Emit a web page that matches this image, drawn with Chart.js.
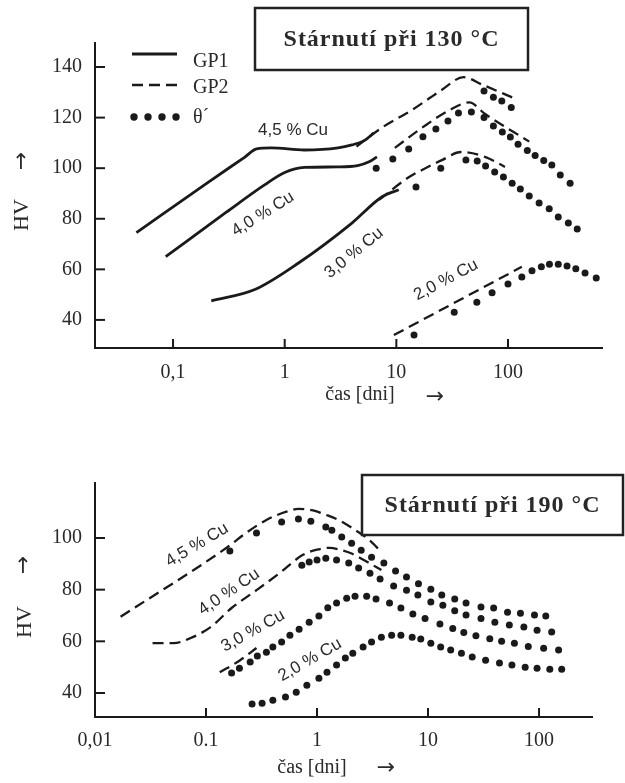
<!DOCTYPE html>
<html><head><meta charset="utf-8">
<script src="https://cdn.jsdelivr.net/npm/chart.js@4.4.0/dist/chart.umd.min.js"></script>
<style>
html,body{margin:0;padding:0;background:#fff;width:625px;height:783px;overflow:hidden}
#c1{position:absolute;left:0;top:0}
#c2{position:absolute;left:0;top:410px}
</style></head><body>
<canvas id="c1" width="625" height="410"></canvas>
<canvas id="c2" width="625" height="373"></canvas>
<script>
// ---------- tick values and labels ----------
const xTicks130 = [0.1, 1, 10, 100];
const xLabels130 = ['0,1', '1', '10', '100'];
const yTicks130 = [40, 60, 80, 100, 120, 140];
const xTicks190 = [0.01, 0.1, 1, 10, 100];
const xLabels190 = ['0,01', '0.1', '1', '10', '100'];
const yTicks190 = [40, 60, 80, 100];

// ---------- ageing at 130 °C : [time in days, HV] ----------
const gp1_130_45 = [[0.047,74.5],[0.2,94],[0.44,104.4],[0.56,107.6],[0.76,108],[1.5,107.2],[3,108],[4,109.2],[5.2,111],[6.3,114]];
const gp2_130_45 = [[4.4,108.5],[7.4,116],[13.8,123],[25.6,131],[40,136],[59,133],[109,128]];
const theta_130_45 = [[61,130.5],[74,128],[88,126.6],[107,124]];
const gp1_130_40 = [[0.086,65],[0.3,82.6],[0.66,93.4],[1.0,98.3],[1.5,100.3],[3,100.5],[4.5,101],[5.7,102.5],[6.7,104.5]];
const gp2_130_40 = [[9.7,108],[17,116],[30,123],[45,126],[62,121.5],[155,110.5]];
const theta_130_40 = [[6.6,100],[9.3,103.6],[12.9,107.6],[17.3,112.4],[22.6,115.5],[29,118.7],[36,121.8],[47,122.2],[61,120],[74,116.7],[89,114.3],[105,112.3],[123,109.5],[149,107],[175,105],[209,103],[247,101.3],[294,97.3],[360,94]];
const gp1_130_30 = [[0.22,47.5],[0.54,52],[1.33,62.5],[4,78.3],[7.4,88.6],[10.5,91.5]];
const gp2_130_30 = [[7,87.5],[13,96.5],[17,99.3],[25.6,103.2],[38,106.4],[63,104.4],[94,100.5]];
const theta_130_30 = [[15,92.6],[25,100],[42,103.2],[53,102.8],[63,100.9],[76,98.5],[91,96.5],[109,94],[129,91.8],[155,89],[190,86.2],[234,84],[282,80.7],[347,78.3],[417,76]];
const gp2_130_20 = [[9.5,34],[133,61]];
const theta_130_20 = [[14.4,34],[33,43],[52.6,47],[72,50.7],[100,54.2],[133,57],[164,59.4],[199,61],[235,62],[282,62],[338,61.3],[405,60.2],[490,58.6],[617,56.6]];

// ---------- ageing at 190 °C ----------
const gp2_190_45 = [[0.017,69.5],[0.16,96.8],[0.23,102],[0.35,107],[0.53,110.2],[0.68,111.3],[0.9,110.8],[1.2,109],[1.6,106.8],[2.05,104],[2.9,99.5],[3.8,94.6]];
const theta_190_45 = [[0.164,95],[0.285,101.9],[0.48,106.2],[0.68,107.4],[0.88,106.5],[1.2,104.3],[1.36,103],[1.67,100.4],[2.05,98],[2.5,95.3],[3.1,92.6],[4,90.3],[5.1,87.2],[6.4,84.9],[8.2,82.3],[10.6,80.2],[13.3,77.9],[17.4,76.4],[22,74.8],[30,73.3],[39,72.9],[52,71.3],[68,70.9],[91,70.2],[115,69.8]];
const gp2_190_40 = [[0.033,59.3],[0.051,59.3],[0.072,61.2],[0.11,65.5],[0.17,72.9],[0.285,79.8],[0.46,86.4],[0.74,93.4],[1.0,95.5],[1.3,96.2],[1.6,95.5],[2.05,94],[2.9,90.5],[3.8,87.6]];
const theta_190_40 = [[0.73,89.5],[0.85,90.7],[1.0,91.5],[1.2,92.2],[1.5,91.5],[1.93,90.3],[2.37,88.4],[3.0,86.4],[3.7,84.1],[4.9,81.4],[6.4,79.8],[8.1,77.9],[10.6,75.2],[13.6,74],[17.4,71.8],[22,70.2],[30,68.8],[40,67.4],[54,66.3],[73,65.5],[96,64.3],[130,63.6]];
const gp2_190_30 = [[0.133,48],[0.2,52.5],[0.285,57.4]];
const theta_190_30 = [[0.17,47.7],[0.2,49.6],[0.25,52],[0.29,54.3],[0.35,55.8],[0.4,57.8],[0.48,59.7],[0.57,62.4],[0.69,64.7],[0.85,67.4],[1.04,69.8],[1.25,73],[1.5,74.8],[1.85,76.7],[2.2,77.5],[2.8,77.5],[3.4,76.4],[4.5,74.8],[5.7,72.9],[7.3,70.6],[9.4,68.8],[12.8,66.7],[16.7,65],[21,63.4],[27,62.2],[36,61],[46,60],[60,59.3],[80,58],[110,57.3],[150,56.6]];
const theta_190_20 = [[0.26,35.7],[0.32,36],[0.4,37.2],[0.52,38.4],[0.65,40.3],[0.81,43],[1.04,45.7],[1.23,48],[1.5,50.8],[1.8,53.5],[2.1,55.4],[2.6,57.8],[3.1,59.7],[3.8,61.6],[4.7,62.4],[5.7,62.4],[7.2,61.6],[8.6,60.9],[10.6,59.3],[13,57.8],[16,56.6],[20,55.4],[25,53.9],[33,52.7],[44,51.6],[57,50.8],[75,50],[96,49.6],[125,49.2],[160,49.2]];

// ---------- helpers ----------
const INK = '#1a1a1a';
function ds(label, pts, kind) {
  const base = { label, data: pts.map(([x, y]) => ({ x, y })), borderColor: INK, backgroundColor: INK };
  if (kind === 'gp1') return Object.assign(base, { borderWidth: 2.8, pointRadius: 0, cubicInterpolationMode: 'monotone' });
  if (kind === 'gp2') return Object.assign(base, { borderWidth: 2.3, borderDash: [11, 6], pointRadius: 0, cubicInterpolationMode: 'monotone' });
  return Object.assign(base, { showLine: false, pointRadius: 3.5, pointBorderWidth: 0, pointStyle: 'circle' });
}

const inwardTicks = {
  id: 'inwardTicks',
  afterDraw(chart) {
    const { ctx, scales: { x, y }, chartArea: a } = chart;
    ctx.save(); ctx.strokeStyle = INK; ctx.lineWidth = 2;
    x.ticks.forEach(t => { const p = x.getPixelForValue(t.value); if (p <= a.left + 2) return; ctx.beginPath(); ctx.moveTo(p, a.bottom); ctx.lineTo(p, a.bottom - 9); ctx.stroke(); });
    y.ticks.forEach(t => { const p = y.getPixelForValue(t.value); ctx.beginPath(); ctx.moveTo(a.left, p); ctx.lineTo(a.left + 10, p); ctx.stroke(); });
    ctx.restore();
  }
};

function txt(ctx, s, x, y, font, rot, align, spacing) {
  ctx.save(); ctx.translate(x, y); if (rot) ctx.rotate(rot * Math.PI / 180);
  ctx.font = font; ctx.fillStyle = '#2a2a2a'; ctx.textAlign = align || 'center'; ctx.textBaseline = 'middle';
  if (spacing) ctx.letterSpacing = spacing;
  ctx.fillText(s, 0, 0); ctx.restore();
}
function titleBox(ctx, x, y, w, h, s) {
  ctx.save(); ctx.fillStyle = '#fff'; ctx.fillRect(x, y, w, h);
  ctx.strokeStyle = '#222'; ctx.lineWidth = 2.5; ctx.strokeRect(x, y, w, h); ctx.restore();
  txt(ctx, s, x + w / 2, y + h / 2 + 1, 'bold 24px "Liberation Serif"', 0, 'center', '1px');
}
const SANS = '17px "Liberation Sans"';
const SERIF = '20px "Liberation Serif"';
const ARROW = '22px "DejaVu Sans"';

const decor130 = {
  id: 'decor130',
  afterDraw(chart) {
    const ctx = chart.ctx;
    titleBox(ctx, 255, 8, 273, 62, 'Stárnutí při 130 °C');
    // legend
    ctx.save(); ctx.strokeStyle = INK; ctx.lineWidth = 2.8;
    ctx.beginPath(); ctx.moveTo(132, 54); ctx.lineTo(177, 54); ctx.stroke();
    ctx.lineWidth = 2.3; ctx.setLineDash([11, 6]);
    ctx.beginPath(); ctx.moveTo(132, 85); ctx.lineTo(177, 85); ctx.stroke();
    ctx.setLineDash([]); ctx.fillStyle = INK;
    [134, 148, 162, 176].forEach(cx => { ctx.beginPath(); ctx.arc(cx, 117, 3.7, 0, Math.PI * 2); ctx.fill(); });
    ctx.restore();
    txt(ctx, 'GP1', 193, 62, SERIF, 0, 'left');
    txt(ctx, 'GP2', 193, 88, SERIF, 0, 'left');
    txt(ctx, 'θ´', 193, 118, SERIF, 0, 'left');
    // curve labels
    txt(ctx, '4,5 % Cu', 293, 130, SANS, 0);
    txt(ctx, '4,0 % Cu', 263, 214, SANS, -32);
    txt(ctx, '3,0 % Cu', 354, 253, SANS, -39);
    txt(ctx, '2,0 % Cu', 446, 280, SANS, -28);
    // axis titles
    txt(ctx, 'HV', 22, 215, '22px "Liberation Serif"', -90);
    txt(ctx, '↑', 21, 163, ARROW, 0);
    txt(ctx, 'čas [dni]', 360, 395, '20px "Liberation Serif"', 0);
    txt(ctx, '→', 435, 397, ARROW, 0);
  }
};
const decor190 = {
  id: 'decor190',
  afterDraw(chart) {
    const ctx = chart.ctx;
    titleBox(ctx, 362, 65, 261, 60, 'Stárnutí při 190 °C');
    txt(ctx, '4,5 % Cu', 197, 135, SANS, -31);
    txt(ctx, '4,0 % Cu', 229, 182, SANS, -34);
    txt(ctx, '3,0 % Cu', 253, 221, SANS, -29);
    txt(ctx, '2,0 % Cu', 310, 250, SANS, -30);
    txt(ctx, 'HV', 25, 212, '22px "Liberation Serif"', -90);
    txt(ctx, '↑', 23, 157, ARROW, 0);
    txt(ctx, 'čas [dni]', 312, 358, '20px "Liberation Serif"', 0);
    txt(ctx, '→', 386, 358, ARROW, 0);
  }
};

function makeChart(id, datasets, c, decor) {
  return new Chart(document.getElementById(id), {
    type: 'line',
    data: { datasets },
    options: {
      responsive: false, animation: false, devicePixelRatio: 1,
      layout: { padding: c.padding },
      plugins: { legend: { display: false }, tooltip: { enabled: false } },
      scales: {
        x: {
          type: 'logarithmic', min: c.xmin, max: c.xmax,
          afterBuildTicks: s => { s.ticks = c.xTicks.map(v => ({ value: v })); },
          afterFit: s => { s.height = 40; },
          grid: { display: false, drawTicks: false },
          border: { display: true, color: INK, width: 2 },
          ticks: { autoSkip: false, maxRotation: 0, padding: c.xPad, color: '#2a2a2a',
            font: { family: 'Liberation Serif', size: 20 },
            callback: v => c.xLabels[c.xTicks.indexOf(v)] }
        },
        y: {
          type: 'linear', min: c.ymin, max: c.ymax,
          afterBuildTicks: s => { s.ticks = c.yTicks.map(v => ({ value: v })); },
          afterFit: s => { s.width = 95; },
          grid: { display: false, drawTicks: false },
          border: { display: true, color: INK, width: 2 },
          ticks: { padding: 13, color: '#2a2a2a', font: { family: 'Liberation Serif', size: 20 },
            callback: v => String(v) }
        }
      }
    },
    plugins: [inwardTicks, decor]
  });
}

makeChart('c1', [
  ds('GP1 4,5 % Cu', gp1_130_45, 'gp1'), ds('GP2 4,5 % Cu', gp2_130_45, 'gp2'), ds('θ´ 4,5 % Cu', theta_130_45, 'th'),
  ds('GP1 4,0 % Cu', gp1_130_40, 'gp1'), ds('GP2 4,0 % Cu', gp2_130_40, 'gp2'), ds('θ´ 4,0 % Cu', theta_130_40, 'th'),
  ds('GP1 3,0 % Cu', gp1_130_30, 'gp1'), ds('GP2 3,0 % Cu', gp2_130_30, 'gp2'), ds('θ´ 3,0 % Cu', theta_130_30, 'th'),
  ds('GP2 2,0 % Cu', gp2_130_20, 'gp2'), ds('θ´ 2,0 % Cu', theta_130_20, 'th')
], { padding: { left: 0, top: 43, right: 23, bottom: 22 }, xmin: 0.02, xmax: 695, ymin: 28.9, ymax: 149.5,
     xTicks: xTicks130, xLabels: xLabels130, yTicks: yTicks130, xPad: 13 }, decor130);

makeChart('c2', [
  ds('GP2 4,5 % Cu', gp2_190_45, 'gp2'), ds('θ´ 4,5 % Cu', theta_190_45, 'th'),
  ds('GP2 4,0 % Cu', gp2_190_40, 'gp2'), ds('θ´ 4,0 % Cu', theta_190_40, 'th'),
  ds('GP2 3,0 % Cu', gp2_190_30, 'gp2'), ds('θ´ 3,0 % Cu', theta_190_30, 'th'),
  ds('θ´ 2,0 % Cu', theta_190_20, 'th')
], { padding: { left: 0, top: 73, right: 33, bottom: 26 }, xmin: 0.01, xmax: 300, ymin: 30.7, ymax: 121.3,
     xTicks: xTicks190, xLabels: xLabels190, yTicks: yTicks190, xPad: 12 }, decor190);
</script>
</body></html>
